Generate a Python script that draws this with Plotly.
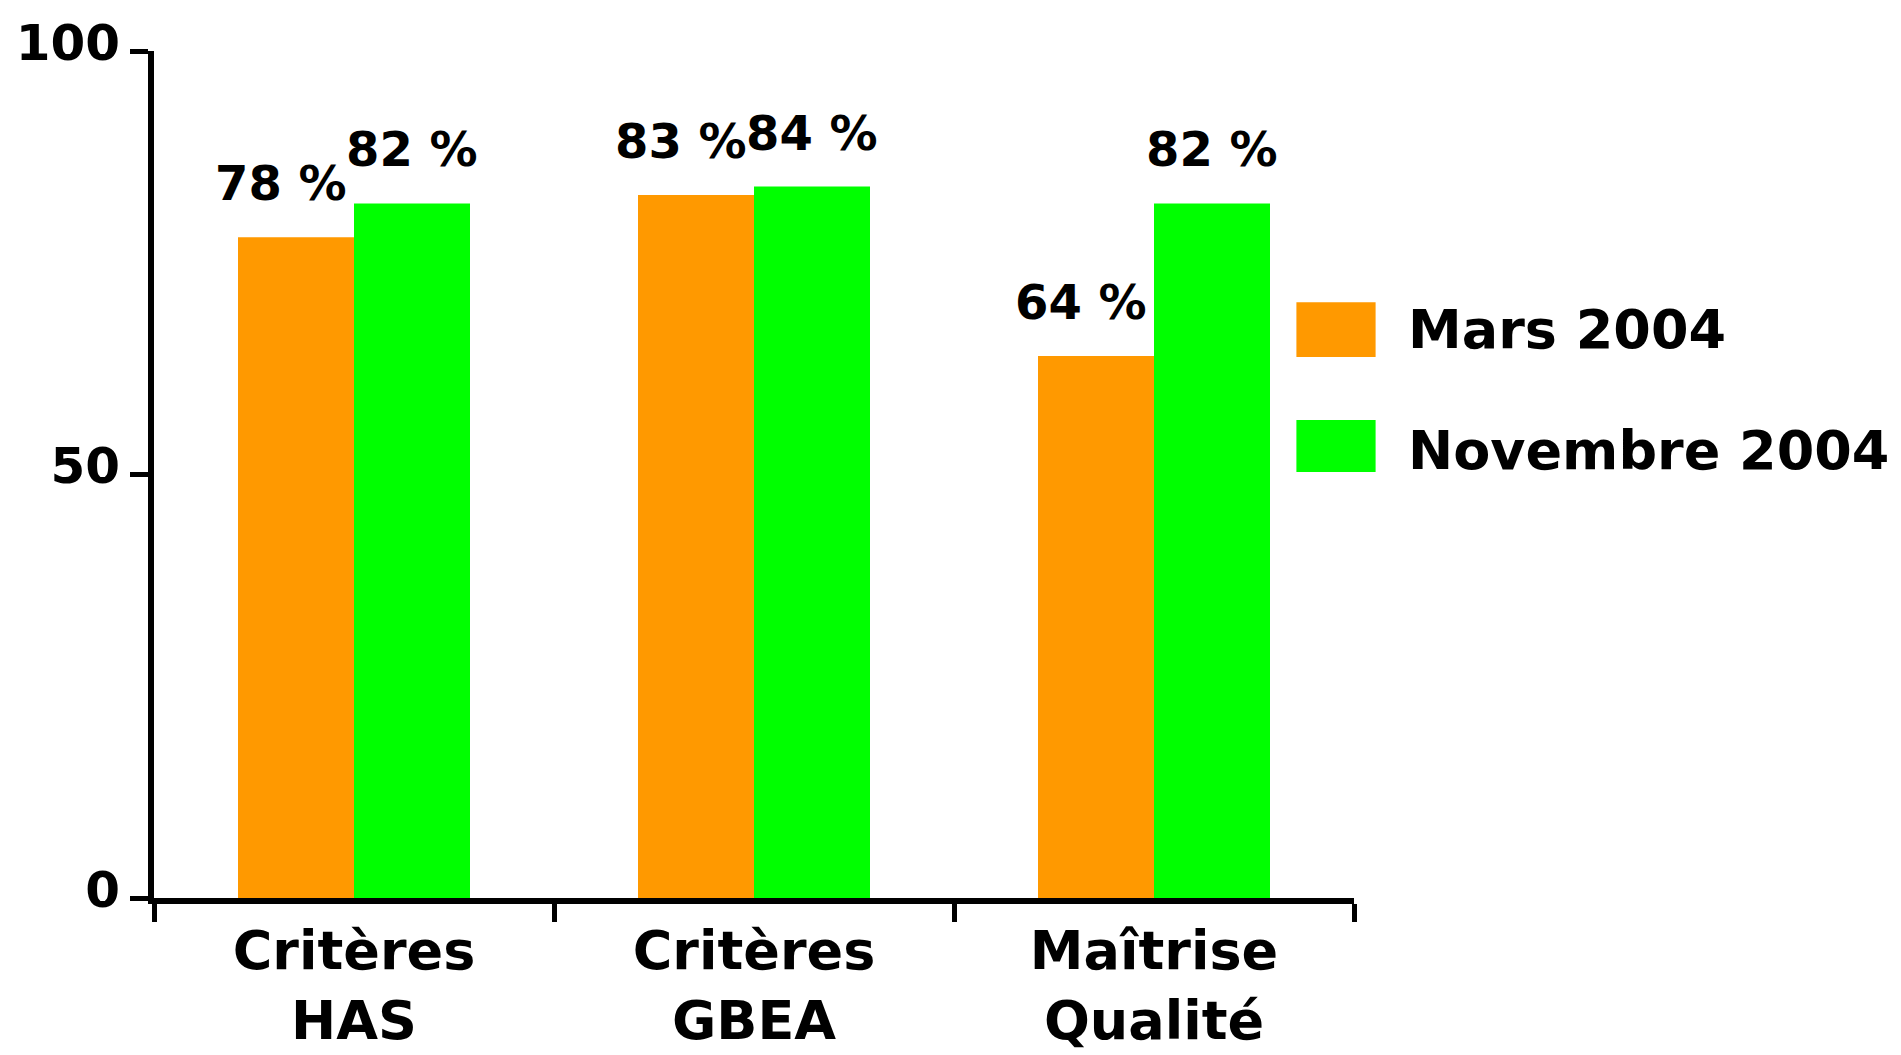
import plotly.graph_objects as go

# Chart data
categories = ["Critères<br>HAS", "Critères<br>GBEA", "Maîtrise<br>Qualité"]
series_names = ["Mars 2004", "Novembre 2004"]
mars_2004 = [78, 83, 64]
novembre_2004 = [82, 84, 82]
y_ticks = [0, 50, 100]

series_values = [mars_2004, novembre_2004]
series_colors = ["#FF9900", "#00FF00"]
label_nudge = [-15, 0]  # horizontal nudge (px) of each series' value labels
FONT = "Comic Sans MS, DejaVu Sans, sans-serif"

W, H = 1901, 1055
L, R, T, B = 154, 547, 51, 157
plot_w = W - L - R
bargap = 0.42
bar_px = plot_w / len(categories) * (1 - bargap) / 2

fig = go.Figure()
for name, vals, col in zip(series_names, series_values, series_colors):
    fig.add_bar(
        x=categories, y=vals, name=name,
        marker=dict(color=col, line=dict(width=0)),
        showlegend=False,
    )

# Percentage labels above each bar
for i, vals in enumerate(series_values):
    shift = (i - 0.5) * bar_px + label_nudge[i]
    for c, v in zip(categories, vals):
        fig.add_annotation(
            x=c, y=v, text=f"{v} %", xshift=shift, yshift=24,
            xanchor="center", yanchor="bottom", showarrow=False,
            font=dict(family=FONT, size=48, color="black", weight="bold"),
        )

# Legend drawn as large swatches with labels to the right of the plot
legend_rows = [(0.671, 0.0324, 0.671), (0.5336, 0.0306, 0.528)]
for (yc, half, ytxt), name, col in zip(legend_rows, series_names, series_colors):
    fig.add_shape(
        type="rect", xref="paper", yref="paper",
        x0=0.952, x1=1.018, y0=yc - half, y1=yc + half,
        fillcolor=col, line=dict(width=0),
    )
    fig.add_annotation(
        xref="paper", yref="paper", x=1.043, y=ytxt, text=name,
        xanchor="left", yanchor="middle", showarrow=False,
        font=dict(family=FONT, size=54, color="black", weight="bold"),
    )

fig.update_layout(
    width=W, height=H,
    margin=dict(l=L, r=R, t=T, b=B, autoexpand=False),
    paper_bgcolor="white", plot_bgcolor="white",
    barmode="group", bargap=bargap, bargroupgap=0,
    showlegend=False,
    font=dict(family=FONT, color="black"),
)
fig.update_xaxes(
    showline=True, linecolor="black", linewidth=6,
    ticks="outside", tickson="boundaries", ticklen=18, tickwidth=5, tickcolor="black",
    showgrid=False, zeroline=False,
    tickfont=dict(family=FONT, size=54, color="black", weight="bold"),
)
fig.update_yaxes(
    range=[0, 100], tickvals=y_ticks, ticktext=[str(t) for t in y_ticks],
    showline=True, linecolor="black", linewidth=6,
    ticks="outside", ticklen=18, tickwidth=5, tickcolor="black",
    showgrid=False, zeroline=False, ticklabelshift=-9,
    tickfont=dict(family=FONT, size=50, color="black", weight="bold"),
)

fig.write_html("out.html")
